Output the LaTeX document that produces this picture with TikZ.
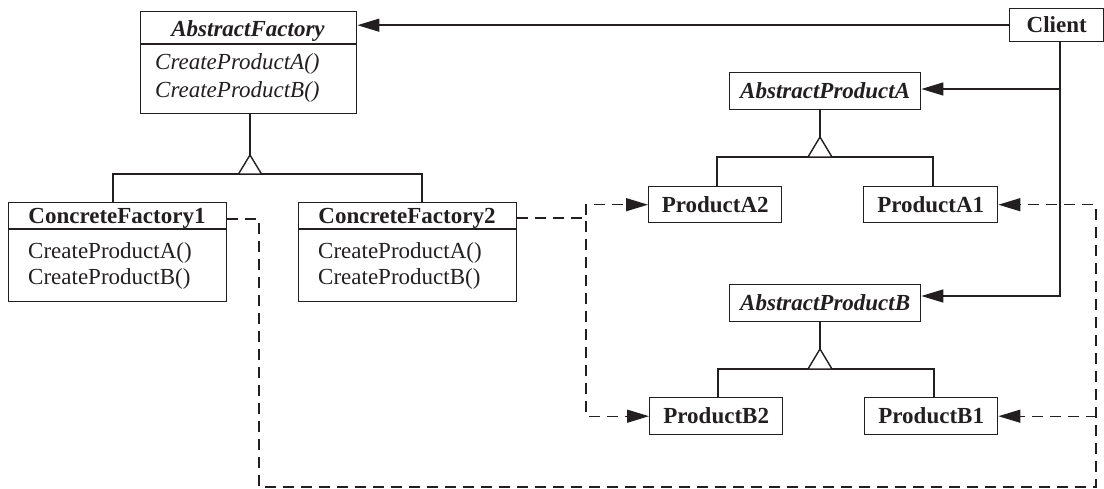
\documentclass[tikz,border=0pt]{standalone}
\usepackage{fontspec}
\setmainfont{Liberation Serif}
\usetikzlibrary{arrows.meta}
\definecolor{ink}{RGB}{35,31,32}
\newcommand\umlfont{\fontsize{23}{27}\selectfont}
\begin{document}
\begin{tikzpicture}[x=1pt,y=-1pt,
  every node/.style={inner sep=0pt, text=ink},
  classbox/.style={draw=ink, line width=1.4pt, anchor=north west,
    text height=15pt, text depth=0pt, align=center},
  cname/.style={font=\umlfont\bfseries},
  aname/.style={font=\umlfont\bfseries\itshape},
  aop/.style={font=\umlfont\itshape, anchor=base west},
  cop/.style={font=\umlfont, anchor=base west},
  conn/.style={draw=ink, line width=1.4pt},
  dep/.style={conn, dash pattern=on 11pt off 7pt},
  tip/.style={-{Triangle[length=22pt,width=13pt]}},
  gen/.style={draw=ink, line width=1.4pt, fill=white, line join=miter}
]
\useasboundingbox (0,0) rectangle (1104,489);

% ---- factory classes ----
\node[classbox, minimum width=216pt, minimum height=102pt] (af) at (140,11) {};
\draw[conn] (140,44) -- (356,44);
\node[aname, anchor=base] (aft) at (248,37) {AbstractFactory};
\node[aop] (afa) at (155,70) {CreateProductA()};
\node[aop] (afb) at (155,98) {CreateProductB()};

\node[classbox, minimum width=218pt, minimum height=99pt] (cf1) at (8,202) {};
\draw[conn] (8,229) -- (226,229);
\node[cname, anchor=base] (cf1t) at (117,224) {ConcreteFactory1};
\node[cop] (cf1a) at (28,259) {CreateProductA()};
\node[cop] (cf1b) at (28,285) {CreateProductB()};

\node[classbox, minimum width=218pt, minimum height=99pt] (cf2) at (298,202) {};
\draw[conn] (298,229) -- (516,229);
\node[cname, anchor=base] (cf2t) at (407,224) {ConcreteFactory2};
\node[cop] (cf2a) at (318,259) {CreateProductA()};
\node[cop] (cf2b) at (318,285) {CreateProductB()};

% ---- client ----
\node[classbox, cname, minimum width=94pt, minimum height=33pt] (client) at (1009,8) {Client};

% ---- product classes ----
\node[classbox, aname, minimum width=191pt, minimum height=37pt] (apa) at (729,72) {AbstractProductA};
\node[classbox, cname, minimum width=133pt, minimum height=36pt] (pa2) at (648,186) {ProductA2};
\node[classbox, cname, minimum width=134pt, minimum height=36pt] (pa1) at (863,186) {ProductA1};

\node[classbox, aname, minimum width=191pt, minimum height=37pt] (apb) at (729,284) {AbstractProductB};
\node[classbox, cname, minimum width=133pt, minimum height=37pt] (pb2) at (649,397) {ProductB2};
\node[classbox, cname, minimum width=133pt, minimum height=37pt] (pb1) at (864,397) {ProductB1};

% ---- generalisation: factories ----
\coordinate (afj) at (250,174);
\coordinate (afl) at (113,174);
\coordinate (afr) at (422,174);
\draw[conn] (afj |- af.south) -- (250,155);
\draw[conn] (afl |- cf1.north) -- (afl) -- (afr) -- (afr |- cf2.north);
\draw[gen] (250,155) -- (261.5,174) -- (238.5,174) -- cycle;

% ---- generalisation: products A ----
\coordinate (paj) at (820,157);
\coordinate (pal) at (717,157);
\coordinate (par) at (933,157);
\draw[conn] (paj |- apa.south) -- (820,137);
\draw[conn] (pal |- pa2.north) -- (pal) -- (par) -- (par |- pa1.north);
\draw[gen] (820,137) -- (832,157) -- (808,157) -- cycle;

% ---- generalisation: products B ----
\coordinate (pbj) at (820,369);
\coordinate (pbl) at (718,369);
\coordinate (pbr) at (934,369);
\draw[conn] (pbj |- apb.south) -- (820,349);
\draw[conn] (pbl |- pb2.north) -- (pbl) -- (pbr) -- (pbr |- pb1.north);
\draw[gen] (820,349) -- (832,369) -- (808,369) -- cycle;

% ---- client associations ----
\coordinate (ctop) at (1060,41);
\coordinate (cA) at (1060,89);
\coordinate (cB) at (1060,296);
\draw[conn, tip] (client.west) -- (af.east |- client.west);
\draw[conn, tip] (ctop) |- (apb.east |- cB);
\draw[conn, tip] (cA) -- (apa.east |- cA);

% ---- creation dependencies ----
\coordinate (d2) at (586,218);
\draw[dep, tip] (cf2.east |- d2) -- (d2) |- (pa2.west);
\draw[dep, tip] (cf2.east |- d2) -- (d2) |- (pb2.west);

\coordinate (d1) at (259,219);
\coordinate (dr) at (1096,487);
\draw[dep, tip] (cf1.east |- d1) -- (d1) -- (d1 |- dr) -- (dr) |- (pa1.east);
\draw[dep, tip] (cf1.east |- d1) -- (d1) -- (d1 |- dr) -- (dr) |- (pb1.east);
\end{tikzpicture}
\end{document}
